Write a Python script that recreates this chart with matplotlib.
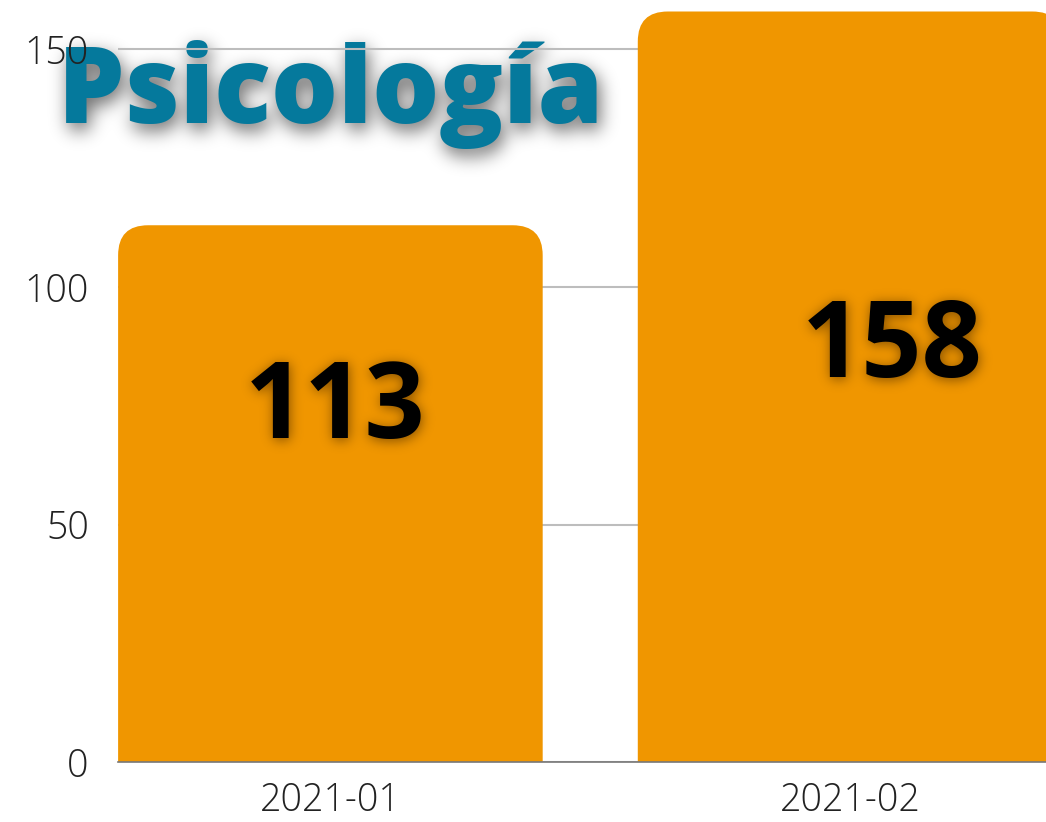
import numpy as np
import matplotlib.pyplot as plt
from matplotlib.patches import FancyBboxPatch
from matplotlib.transforms import IdentityTransform
from matplotlib.colors import to_rgb

periods = ["2021-01", "2021-02"]
counts = [113, 158]
title = "Psicología"

bar_color = "#F09600"
title_color = "#05799C"
bar_width = 0.817

# where the big numbers sit (data coords)
label_dx = [0.01, 0.08]
label_base = [68.2, 81.0]

W, H, DPI = 1046, 822, 100


def blurred_shadow(items, sigma, color, strength, dx, dy):
    # draw the texts alone on a clear canvas, blur the alpha, tint it
    tmp = plt.figure(figsize=(W / DPI, H / DPI), dpi=DPI)
    tmp.patch.set_alpha(0)
    for px, py, s, kw in items:
        tmp.text(px, py, s, transform=IdentityTransform(), **kw)
    tmp.canvas.draw()
    a = np.asarray(tmp.canvas.buffer_rgba())[:, :, 3].astype(float) / 255
    plt.close(tmp)

    r = int(3 * sigma)
    k = np.exp(-0.5 * (np.arange(-r, r + 1) / sigma) ** 2)
    k = k / k.sum()
    a = np.apply_along_axis(lambda m: np.convolve(m, k, mode="same"), 1, a)
    a = np.apply_along_axis(lambda m: np.convolve(m, k, mode="same"), 0, a)
    a = np.roll(a, (dy, dx), axis=(0, 1))

    img = np.zeros((a.shape[0], a.shape[1], 4))
    img[..., :3] = to_rgb(color)
    img[..., 3] = np.clip(a * strength, 0, 1)
    return img


plt.rcParams['font.family'] = ['Open Sans', 'DejaVu Sans']

fig = plt.figure(figsize=(W / DPI, H / DPI), dpi=DPI)
ax = fig.add_axes([118 / W, 60 / H, 1 - 118 / W, 760 / H])
ax.set_facecolor("none")

x = np.arange(len(periods))
ax.set_xlim(-0.4087, 1.377)
ax.set_ylim(0, 160)

# px per data unit, used to keep the corner round
bbox = ax.get_position()
px_x = bbox.width * W / (1.377 + 0.4087)
px_y = bbox.height * H / 160
radius_px = 30

for xi, v in zip(x, counts):
    p = FancyBboxPatch((xi - bar_width / 2, -20), bar_width, v + 20,
                       boxstyle="round,pad=0,rounding_size=%f" % (radius_px / px_x),
                       mutation_aspect=px_x / px_y,
                       facecolor=bar_color, edgecolor="none", zorder=3)
    ax.add_patch(p)

ax.set_yticks([0, 50, 100, 150])
ax.set_xticks(x)
ax.set_xticklabels(periods)
ax.tick_params(axis="both", length=0, labelsize=27, colors="#222222")
ax.tick_params(axis="y", pad=21)
ax.tick_params(axis="x", pad=14)
for lab in ax.get_xticklabels() + ax.get_yticklabels():
    lab.set_fontweight("light")

ax.yaxis.grid(True, color="#BDBDBD", linewidth=1.5, zorder=1)
ax.set_axisbelow(True)
for s in ["top", "right", "left"]:
    ax.spines[s].set_visible(False)
ax.spines["bottom"].set_color("#777777")
ax.spines["bottom"].set_linewidth(1.2)
ax.spines["bottom"].set_zorder(4)

# title, behind the axes so the gridline runs over it
title_kw = dict(ha="left", va="baseline", fontsize=76, fontweight="heavy")
tx, ty = 58, 123
fig.figimage(blurred_shadow([(tx, H - ty, title, title_kw)], 9, "#000000", 0.6, 3, 7),
             zorder=-2)
fig.text(tx / W, 1 - ty / H, title, color=title_color, zorder=-1, **title_kw)

# value labels with a dark glow, drawn above the axes
num_kw = dict(ha="center", va="baseline", fontsize=76, fontweight="bold")
items = []
for xi, v, dx, yb in zip(x, counts, label_dx, label_base):
    px, py = ax.transData.transform((xi + dx, yb))
    items.append((px, py, str(v), num_kw))
fig.figimage(blurred_shadow(items, 6, "#3a1f00", 0.6, 1, 2), zorder=1)
for px, py, s, kw in items:
    fig.text(px / W, py / H, s, color="black", zorder=2, **kw)

fig.savefig("out.png", dpi=DPI)
